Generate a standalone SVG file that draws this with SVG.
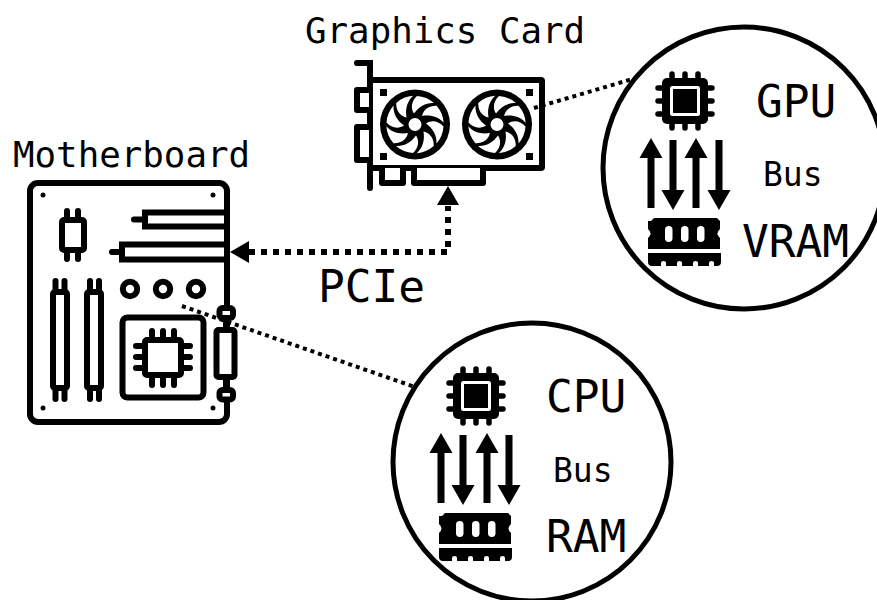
<svg xmlns="http://www.w3.org/2000/svg" xmlns:xlink="http://www.w3.org/1999/xlink" width="877" height="600" viewBox="0 0 877 600">
<style>
.t{font-family:"DejaVu Sans Mono","Liberation Mono",monospace;fill:#000}
.l{font-size:35.800px}.b{font-size:44.500px}.s{font-size:33px}
.o{fill:#fff;stroke:#000;stroke-width:6;stroke-linejoin:round;stroke-linecap:round}
.w{fill:none;stroke:#000;stroke-width:6;stroke-linecap:round}
.d{fill:none;stroke:#000;stroke-width:4;stroke-dasharray:4 4}
.c{fill:#fff;stroke:#000;stroke-width:5}
</style>
<defs>
<g id="fan">
<circle r="35" fill="#000"/>
<g id="blades" fill="#fff">
<path id="bl" d="M-1,-11 C-5,-17 -3,-24 2,-28.500 A28.500,28.500 0 0 1 19,-21.500 C11,-22 4,-18 -1,-11Z"/>
<use xlink:href="#bl" transform="rotate(45)"/><use xlink:href="#bl" transform="rotate(90)"/><use xlink:href="#bl" transform="rotate(135)"/><use xlink:href="#bl" transform="rotate(180)"/><use xlink:href="#bl" transform="rotate(225)"/><use xlink:href="#bl" transform="rotate(270)"/><use xlink:href="#bl" transform="rotate(315)"/>
</g>
<circle r="6.500" fill="#fff"/>
</g>
<g id="chip">
<path d="M-13,-27V27M0,-27V27M13,-27V27M-27,-13H27M-27,0H27M-27,13H27" stroke="#000" stroke-width="5.500" stroke-linecap="round" fill="none"/>
<rect x="-23" y="-23" width="46" height="46" rx="5" fill="#000"/>
<rect x="-13.500" y="-13.500" width="27" height="27" rx="1" fill="#000" stroke="#fff" stroke-width="3"/>
</g>
<path id="up" d="M0,0L11.500,20H3.500V70H-3.500V20H-11.500Z" fill="#000"/>
<g id="ram">
<path d="M3,3L6,0H69L72,3V11Q67,15.500 72,20V31H0V20Q5,15.500 0,11V3Z" fill="#000"/>
<g fill="#fff"><rect x="17" y="8" width="7.500" height="16" rx="3.700"/><rect x="33" y="8" width="7.500" height="16" rx="3.700"/><rect x="49" y="8" width="7.500" height="16" rx="3.700"/></g>
<path d="M0,35H73V44Q73,48 69,48H66V45Q66,43 63.500,43Q61,43 61,45V48H50V45Q50,43 47.500,43Q45,43 45,45V48H34V45Q34,43 31.500,43Q29,43 29,45V48H18V45Q18,43 15.500,43Q13,43 13,45V48H4Q0,48 0,44Z" fill="#000"/>
</g>
</defs>
<rect width="877" height="600" fill="#fff"/>
<g id="motherboard">
<rect class="o" x="30" y="183" width="197" height="239" rx="8"/>
<g fill="#000"><circle cx="43" cy="195" r="2.500"/><circle cx="213" cy="195" r="2.500"/><circle cx="43" cy="408" r="2.500"/><circle cx="213" cy="408" r="2.500"/></g>
<path class="w" d="M227,212.500H145V226.500H227M145,219.500H134M227,244.500H122V259.500H227M122,252H112"/>
<path class="w" d="M67,211V259M78,211V259M55.500,281V399M64.500,281V399M90,281V399M99,281V399"/>
<rect class="o" x="62" y="220" width="22" height="30" rx="2"/>
<rect class="o" x="53" y="292" width="14" height="96" rx="2"/>
<rect class="o" x="87" y="292" width="14" height="96" rx="2"/>
<circle class="o" cx="130" cy="289" r="7.200"/><circle class="o" cx="163" cy="289" r="7.200"/><circle class="o" cx="196" cy="289" r="7.200"/>
<rect class="o" x="122.500" y="317.500" width="81" height="80" rx="5"/>
<path class="w" d="M152,331V385M163,331V385M174,331V385M136,346H190M136,357H190M136,368H190"/>
<rect class="o" x="145" y="340" width="36" height="35" rx="2"/>
<rect class="o" x="219.500" y="308" width="13.500" height="10" rx="3"/>
<rect class="o" x="216.500" y="330" width="18" height="47" rx="2"/>
<rect class="o" x="219.500" y="390" width="13.500" height="9.500" rx="3"/>
<path d="M226,318V330M226,377V390" stroke="#000" stroke-width="6" fill="none"/>
</g>
<g id="graphics-card">
<path class="w" d="M370,188V63H357"/>
<rect class="o" x="370" y="80" width="172" height="88" rx="1"/>
<path class="o" d="M369,90H357V110H369M369,127H357V160H369"/>
<path class="o" d="M382,168V183H403V168M414,168V183H483V168"/>
<g fill="#000"><rect x="380" y="89" width="7" height="7"/><rect x="526" y="89" width="7" height="7"/><rect x="380" y="153" width="7" height="7"/><rect x="526" y="153" width="7" height="7"/></g>
<use xlink:href="#fan" x="415" y="124.500"/>
<use xlink:href="#fan" x="497" y="124.500"/>
</g>
<g id="connectors">
<path class="d" d="M534,108L636,78"/>
<path class="d" d="M182,306L415,387"/>
<path d="M249,252H448V206" fill="none" stroke="#000" stroke-width="6" stroke-dasharray="6 6"/>
<path d="M230,252L249,241V263Z" fill="#000"/>
<path d="M448,186L459,205H437Z" fill="#000"/>
</g>
<g id="gpu-detail">
<circle class="c" cx="744" cy="168" r="141"/>
<use xlink:href="#chip" x="685" y="101"/>
<use xlink:href="#up" x="651" y="138"/>
<use xlink:href="#up" transform="translate(673,210) scale(1,-1)"/>
<use xlink:href="#up" x="696" y="138"/>
<use xlink:href="#up" transform="translate(719,210) scale(1,-1)"/>
<use xlink:href="#ram" x="648" y="218"/>
</g>
<g id="cpu-detail">
<circle class="c" cx="532" cy="462" r="139"/>
<use xlink:href="#chip" x="476" y="396"/>
<use xlink:href="#up" x="441" y="433"/>
<use xlink:href="#up" transform="translate(463,505) scale(1,-1)"/>
<use xlink:href="#up" x="487" y="433"/>
<use xlink:href="#up" transform="translate(509,505) scale(1,-1)"/>
<use xlink:href="#ram" x="439" y="513"/>
</g>
<g id="labels">
<text class="t l" x="305" y="43">Graphics Card</text>
<text class="t l" x="13" y="167">Motherboard</text>
<text class="t b" x="318" y="302">PCIe</text>
<text class="t b" x="756" y="117">GPU</text>
<text class="t s" x="763" y="186">Bus</text>
<text class="t b" x="742" y="257">VRAM</text>
<text class="t b" x="546" y="412">CPU</text>
<text class="t s" x="553" y="482">Bus</text>
<text class="t b" x="546" y="552">RAM</text>
</g>
</svg>
